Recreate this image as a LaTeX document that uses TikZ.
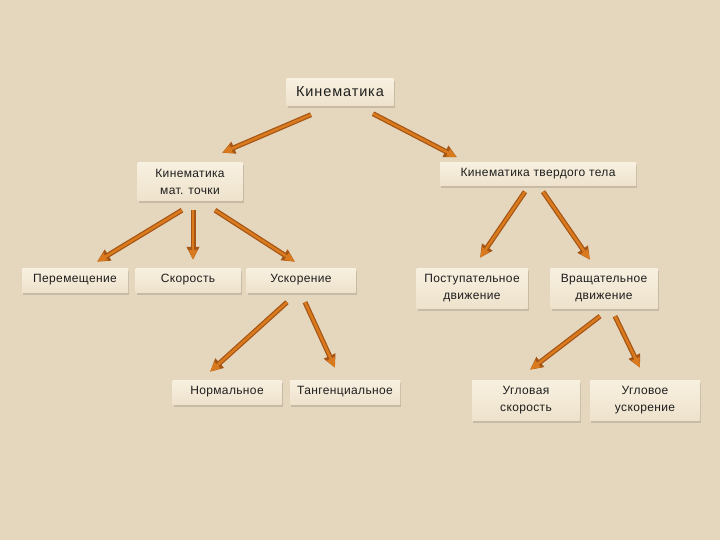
\documentclass[tikz,border=0pt]{standalone}
\usepackage{fontspec}
\setmainfont{Liberation Sans}
\usetikzlibrary{calc,arrows.meta,shadows}

\begin{document}
\begin{tikzpicture}[x=1pt,y=-1pt]
        \definecolor{bgbeige}{RGB}{229,215,190}
        \definecolor{boxtop}{RGB}{248,240,224}
        \definecolor{boxbottom}{RGB}{238,226,204}
        \definecolor{shadowgrey}{RGB}{192,180,160}
        \definecolor{arrorange}{RGB}{218,122,30}
        \definecolor{arrbrown}{RGB}{165,85,20}
        \definecolor{textgrey}{RGB}{30,30,30}

        \tikzset{
            box/.style={top color=boxtop, bottom color=boxbottom, inner sep=0pt,
                text=textgrey, align=center,
                font=\fontsize{12}{17}\selectfont\addfontfeatures{LetterSpace=3},
                drop shadow={shadow xshift=1pt, shadow yshift=-2.5pt, fill=shadowgrey, opacity=0.8}},
            arr/.style={draw=arrbrown, line width=5pt, -{Triangle[length=13pt,width=12pt]},
                postaction={draw=arrorange, line width=2.5pt, -{Triangle[length=10pt,width=8pt]}}}
        }

        \useasboundingbox (0,0) rectangle (720,540);
        \fill[bgbeige] (0,0) rectangle (720,540);

        \node[box, minimum width=107pt, minimum height=27pt,
            font=\fontsize{14.5}{17}\selectfont\addfontfeatures{LetterSpace=6}] (kin) at (340,92) {Кинематика};
        \node[box, minimum width=105pt, minimum height=38pt] (mat) at (190,182) {Кинематика\\мат. точки};
        \node[box, minimum width=196pt, minimum height=23pt] (solid) at (538,174) {Кинематика твердого тела};

        \node[box, minimum width=106pt, minimum height=24pt] (per) at (75,280) {Перемещение};
        \node[box, minimum width=105pt, minimum height=24pt] (sko) at (188,280) {Скорость};
        \node[box, minimum width=109pt, minimum height=24pt] (usk) at (301,280) {Ускорение};
        \node[box, minimum width=111pt, minimum height=40pt] (post) at (472,288) {Поступательное\\движение};
        \node[box, minimum width=107pt, minimum height=40pt] (vra) at (604,288) {Вращательное\\движение};

        \node[box, minimum width=109pt, minimum height=24pt] (norm) at (227,392) {Нормальное};
        \node[box, minimum width=110pt, minimum height=24pt] (tang) at (345,392) {Тангенциальное};
        \node[box, minimum width=108pt, minimum height=40pt] (uglsk) at (526,400) {Угловая\\скорость};
        \node[box, minimum width=110pt, minimum height=40pt] (uglusk) at (645,400) {Угловое\\ускорение};

        \draw[arr] ($(kin.south)+(-29,9)$) -- ($(mat.north)+(32,-10)$);
        \draw[arr] ($(kin.south)+(33,8)$) -- ($(solid.north)+(-81,-5)$);

        \draw[arr] ($(mat.south)+(-8,9)$) -- ($(per.north)+(22,-6)$);
        \draw[arr] ($(mat.south)+(3,9)$) -- ($(sko.north)+(5,-8)$);
        \draw[arr] ($(mat.south)+(25,9)$) -- ($(usk.north)+(-6,-6)$);

        \draw[arr] ($(solid.south)+(-13,6)$) -- ($(post.north)+(8,-10)$);
        \draw[arr] ($(solid.south)+(5,6)$) -- ($(vra.north)+(-14,-8)$);

        \draw[arr] ($(usk.south)+(-14,10)$) -- ($(norm.north)+(-17,-8)$);
        \draw[arr] ($(usk.south)+(4,10)$) -- ($(tang.north)+(-10,-12)$);

        \draw[arr] ($(vra.south)+(-4,8)$) -- ($(uglsk.north)+(4,-10)$);
        \draw[arr] ($(vra.south)+(11,8)$) -- ($(uglusk.north)+(-5,-12)$);
    \end{tikzpicture}
\end{document}
